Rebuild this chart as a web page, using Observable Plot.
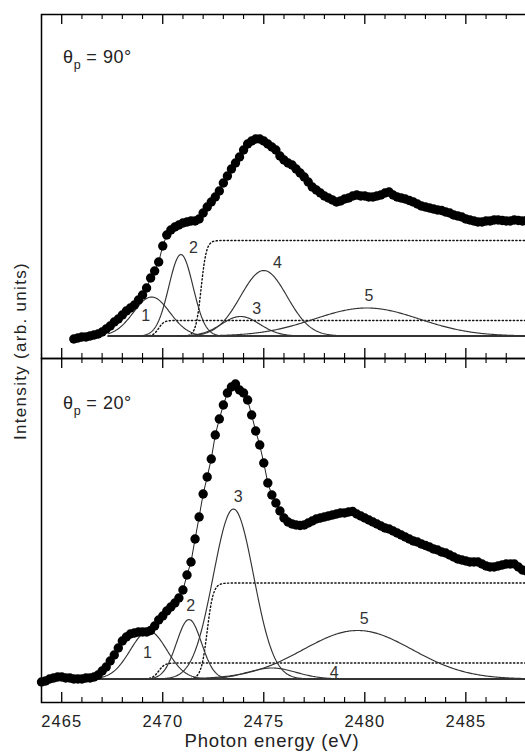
<!DOCTYPE html>
<html><head><meta charset="utf-8">
<script src="https://cdn.jsdelivr.net/npm/d3@7"></script>
<script src="https://cdn.jsdelivr.net/npm/@observablehq/plot@0.6"></script>
<style>
body{margin:0;background:#fff;}
#wrap{position:relative;width:525px;height:754px;overflow:hidden;font-family:"Liberation Sans",Arial,sans-serif;color:#222;}
.layer{position:absolute;left:0;}
.theta{position:absolute;font-size:18px;line-height:18px;letter-spacing:0.6px;white-space:nowrap;}
.theta .sub{font-size:12.5px;position:relative;top:6px;letter-spacing:0;}
#xlabel{position:absolute;left:272px;top:732px;transform:translateX(-50%);font-size:18.5px;line-height:18.5px;letter-spacing:0.8px;white-space:nowrap;}
#ylabel{position:absolute;left:20px;top:351px;transform:translate(-50%,-50%) rotate(-90deg);font-size:17px;line-height:17px;letter-spacing:1.3px;white-space:nowrap;}
</style>
</head><body>
<div id="wrap">
  <div class="layer" id="topData" style="top:0px"></div>
  <div class="layer" id="topAxes" style="top:0px"></div>
  <div class="layer" id="botData" style="top:356px"></div>
  <div class="layer" id="botAxes" style="top:356px"></div>
  <div class="theta" style="left:63px;top:48px;">θ<span class="sub">p</span> = 90°</div>
  <div class="theta" style="left:63px;top:394px;">θ<span class="sub">p</span> = 20°</div>
  <div id="xlabel">Photon energy (eV)</div>
  <div id="ylabel">Intensity (arb. units)</div>
</div>
<script>
// ---------- data ----------
const energy = [
  2464.0,2464.2,2464.4,2464.6,2464.8,2465.0,2465.2,2465.4,2465.6,2465.8,
  2466.0,2466.2,2466.4,2466.6,2466.8,2467.0,2467.2,2467.4,2467.6,2467.8,
  2468.0,2468.2,2468.4,2468.6,2468.8,2469.0,2469.2,2469.4,2469.6,2469.8,
  2470.0,2470.2,2470.4,2470.6,2470.8,2471.0,2471.2,2471.4,2471.6,2471.8,
  2472.0,2472.2,2472.4,2472.6,2472.8,2473.0,2473.2,2473.4,2473.6,2473.8,
  2474.0,2474.2,2474.4,2474.6,2474.8,2475.0,2475.2,2475.4,2475.6,2475.8,
  2476.0,2476.2,2476.4,2476.6,2476.8,2477.0,2477.2,2477.4,2477.6,2477.8,
  2478.0,2478.2,2478.4,2478.6,2478.8,2479.0,2479.2,2479.4,2479.6,2479.8,
  2480.0,2480.2,2480.4,2480.6,2480.8,2481.0,2481.2,2481.4,2481.6,2481.8,
  2482.0,2482.2,2482.4,2482.6,2482.8,2483.0,2483.2,2483.4,2483.6,2483.8,
  2484.0,2484.2,2484.4,2484.6,2484.8,2485.0,2485.2,2485.4,2485.6,2485.8,
  2486.0,2486.2,2486.4,2486.6,2486.8,2487.0,2487.2,2487.4,2487.6,2487.8,
  2488.0
];
// theta_p = 90 deg spectrum
const intensity90 = [
  null,null,null,null,null,null,null,null,-0.03,-0.02,
  -0.01,-0.01,0.00,0.01,0.02,0.04,0.07,0.10,0.14,0.17,
  0.21,0.25,0.28,0.31,0.36,0.41,0.48,0.58,0.65,0.74,
  0.90,1.01,1.06,1.09,1.11,1.13,1.14,1.15,1.15,1.17,
  1.23,1.29,1.34,1.39,1.45,1.53,1.60,1.67,1.73,1.79,
  1.86,1.92,1.95,1.97,1.97,1.95,1.92,1.89,1.86,1.80,
  1.76,1.73,1.71,1.67,1.63,1.59,1.54,1.49,1.46,1.43,
  1.40,1.38,1.36,1.34,1.35,1.37,1.38,1.40,1.41,1.40,
  1.40,1.39,1.39,1.40,1.41,1.43,1.44,1.41,1.39,1.38,
  1.37,1.355,1.34,1.32,1.30,1.29,1.28,1.27,1.26,1.255,
  1.24,1.23,1.21,1.20,1.19,1.17,1.16,1.15,1.14,1.14,
  1.15,1.15,1.16,1.16,1.155,1.15,1.15,1.16,1.155,1.15,
  1.155
];
// theta_p = 20 deg spectrum
const intensity20 = [
  -0.03,-0.02,0.00,0.01,0.02,0.02,0.01,0.01,0.00,0.00,
  0.00,0.01,0.01,0.02,0.04,0.08,0.12,0.18,0.24,0.31,
  0.38,0.42,0.45,0.46,0.47,0.47,0.47,0.485,0.53,0.59,
  0.63,0.68,0.72,0.76,0.81,0.89,1.04,1.17,1.40,1.62,
  1.85,2.02,2.20,2.44,2.60,2.74,2.86,2.92,2.95,2.89,
  2.86,2.79,2.64,2.48,2.34,2.16,1.96,1.84,1.76,1.68,
  1.61,1.57,1.55,1.54,1.535,1.54,1.56,1.58,1.60,1.61,
  1.62,1.63,1.64,1.65,1.66,1.66,1.67,1.675,1.65,1.63,
  1.61,1.59,1.57,1.55,1.53,1.51,1.50,1.48,1.46,1.44,
  1.42,1.40,1.38,1.37,1.35,1.335,1.32,1.30,1.29,1.27,
  1.26,1.24,1.22,1.20,1.19,1.18,1.17,1.17,1.17,1.15,
  1.13,1.12,1.12,1.13,1.14,1.15,1.15,1.15,1.12,1.09,
  1.08
];
const peakNames = ["1","2","3","4","5"];
// fitted Gaussian components (center eV, sigma eV, height)
const center90 = [2469.45, 2470.9, 2473.85, 2475.0, 2480.1];
const sigma90  = [0.9, 0.6, 0.95, 1.15, 2.6];
const height90 = [0.39, 0.815, 0.195, 0.655, 0.28];
const labelE90 = [2469.16, 2471.52, 2474.65, 2475.68, 2480.21];
const labelI90 = [0.205, 0.885, 0.275, 0.735, 0.405];
const stepCenter90 = [2469.8, 2471.9];
const stepHeight90 = [0.155, 0.955];

const center20 = [2469.3, 2471.3, 2473.5, 2475.4, 2479.65];
const sigma20  = [0.9, 0.62, 1.0, 1.2, 2.7];
const height20 = [0.48, 0.595, 1.70, 0.11, 0.485];
const labelE20 = [2469.24, 2471.39, 2473.73, 2478.48, 2479.97];
const labelI20 = [0.258, 0.735, 1.825, 0.058, 0.602];
const stepCenter20 = [2469.8, 2472.2];
const stepHeight20 = [0.16, 0.96];

const majorTicks = [2465, 2470, 2475, 2480, 2485];
const minorTicks = [2464,2466,2467,2468,2469,2471,2472,2473,2474,2476,2477,2478,2479,2481,2482,2483,2484,2486,2487,2488];

// ---------- drawing ----------
const xMin = 2464, xMax = 2488.2;
const panelHeight = 344;
const svgStyle = {background: "transparent", maxWidth: "none", fontFamily: "'Liberation Sans', Arial, sans-serif", overflow: "visible"};

function inwardTicks(ticks, size, width) {
  return [
    Plot.ruleX(ticks, {x: d => d, insetBottom: panelHeight - size, stroke: "#000", strokeWidth: width}),
    Plot.ruleX(ticks, {x: d => d, insetTop: panelHeight - size, stroke: "#000", strokeWidth: width})
  ];
}

function dataPanel({I, centers, sigmas, heights, labE, labI, stepC, stepH, stepW, baseStart, yDomain, height, marginTop, marginBottom}) {
  const data = energy.map((e, i) => ({E: e, I: I[i]})).filter(d => d.I != null);
  const curves = [];
  centers.forEach((c, k) => {
    for (let e = baseStart; e <= xMax + 1e-9; e += 0.05)
      curves.push({E: e, I: heights[k] * Math.exp(-((e - c) ** 2) / (2 * sigmas[k] ** 2)), k});
  });
  const steps = [];
  stepC.forEach((c, k) => {
    for (let e = c - 1.2; e <= xMax + 1e-9; e += 0.05)
      steps.push({E: e, I: stepH[k] / (1 + Math.exp(-(e - c) / stepW)), k});
  });
  const labels = peakNames.map((n, k) => ({n, E: labE[k], I: labI[k]}));
  return Plot.plot({
    width: 530, height, marginLeft: 41, marginRight: 0, marginTop, marginBottom,
    x: {domain: [xMin, xMax], axis: null},
    y: {domain: yDomain, axis: null},
    style: svgStyle,
    marks: [
      Plot.ruleY([0], {x1: baseStart, x2: xMax, stroke: "#111", strokeWidth: 1.5}),
      Plot.line(steps, {x: "E", y: "I", z: "k", stroke: "#111", strokeWidth: 1.4, strokeDasharray: "1.3 2.4"}),
      Plot.line(curves, {x: "E", y: "I", z: "k", stroke: "#333", strokeWidth: 1.15}),
      Plot.line(data, {x: "E", y: "I", stroke: "#222", strokeWidth: 1}),
      Plot.dot(data, {x: "E", y: "I", r: 4.7, fill: "#000", stroke: "none"}),
      Plot.text(labels, {x: "E", y: "I", text: "n", fontSize: 16, fill: "#333", lineAnchor: "middle"})
    ]
  });
}

function axesPanel({height, marginTop, marginBottom, tickLabels}) {
  const marks = [
    Plot.frame({stroke: "#000", strokeWidth: 1.5}),
    ...inwardTicks(majorTicks, 10, 1.3),
    ...inwardTicks(minorTicks, 5, 1.1)
  ];
  if (tickLabels) marks.push(Plot.axisX({anchor: "bottom", ticks: majorTicks, tickSize: 0, tickPadding: 13,
    tickFormat: d => String(d), label: null, fontSize: 16.5, fill: "#222"}));
  return Plot.plot({
    width: 530, height, marginLeft: 41, marginRight: 0, marginTop, marginBottom,
    x: {domain: [xMin, xMax], axis: null},
    style: svgStyle,
    marks
  });
}

document.getElementById("topData").appendChild(dataPanel({I: intensity90, centers: center90, sigmas: sigma90, heights: height90,
  labE: labelE90, labI: labelI90, stepC: stepCenter90, stepH: stepHeight90, stepW: 0.13,
  baseStart: 2467.3, yDomain: [-0.225, 3.215], height: 360, marginTop: 14, marginBottom: 2}));
document.getElementById("topAxes").appendChild(axesPanel({height: 360, marginTop: 14, marginBottom: 2, tickLabels: false}));
document.getElementById("botData").appendChild(dataPanel({I: intensity20, centers: center20, sigmas: sigma20, heights: height20,
  labE: labelE20, labI: labelI20, stepC: stepCenter20, stepH: stepHeight20, stepW: 0.15,
  baseStart: 2466.2, yDomain: [-0.235, 3.205], height: 398, marginTop: 2, marginBottom: 52}));
document.getElementById("botAxes").appendChild(axesPanel({height: 398, marginTop: 2, marginBottom: 52, tickLabels: true}));
</script>
<style>
#botAxes [aria-label="x-axis tick label"] text{letter-spacing:1px;}
</style>
</body></html>
